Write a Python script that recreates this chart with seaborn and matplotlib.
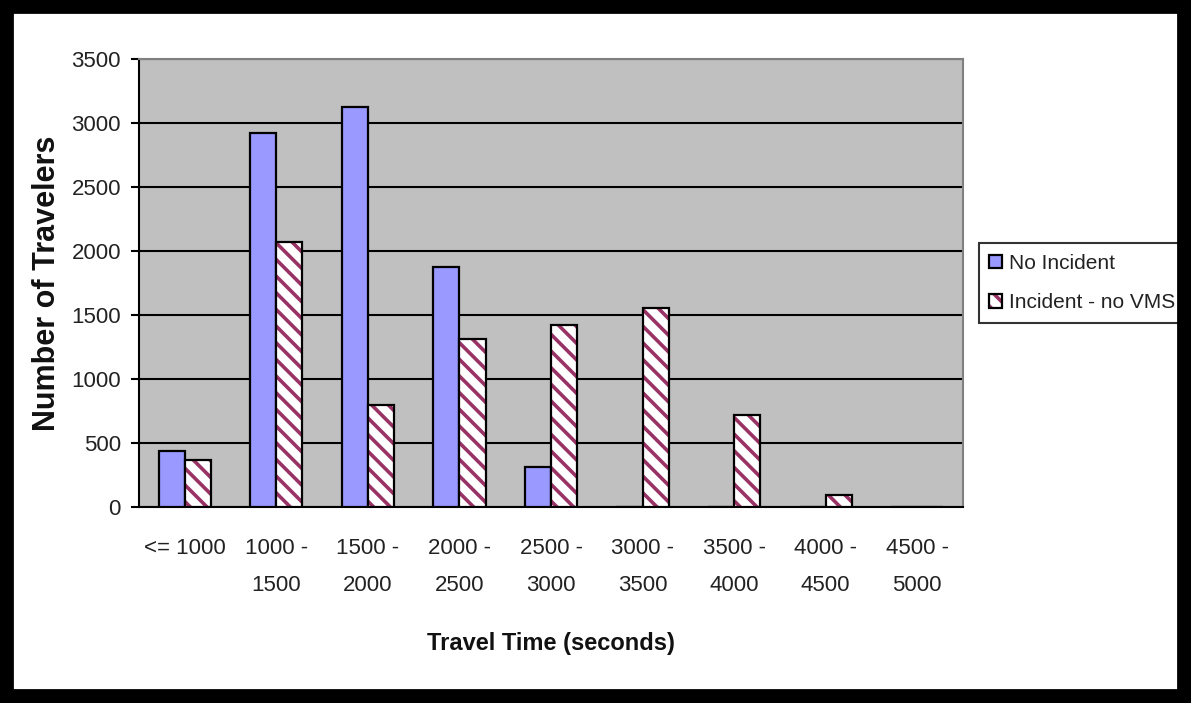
import matplotlib
matplotlib.use("Agg")
import matplotlib.pyplot as plt
import matplotlib.colors as mcolors
from matplotlib.patches import Rectangle
import numpy as np
import pandas as pd
import seaborn as sns

categories = ["<= 1000", "1000 -\n1500", "1500 -\n2000", "2000 -\n2500", "2500 -\n3000",
              "3000 -\n3500", "3500 -\n4000", "4000 -\n4500", "4500 -\n5000"]
no_incident = [440, 2925, 3125, 1875, 310, 0, 0, 0, 0]
incident_no_vms = [370, 2070, 795, 1310, 1425, 1555, 715, 95, 0]
series_names = ["No Incident", "Incident - no VMS"]
y_ticks = [0, 500, 1000, 1500, 2000, 2500, 3000, 3500]

df = pd.DataFrame({
    "cat": categories * 2,
    "series": [series_names[0]] * len(categories) + [series_names[1]] * len(categories),
    "value": no_incident + incident_no_vms,
})

sns.set_theme(style="white")
plt.rcParams["font.family"] = ["Liberation Sans", "DejaVu Sans"]
plt.rcParams["hatch.linewidth"] = 2.6

fig = plt.figure(figsize=(11.91, 7.03), dpi=100)
fig.patch.set_facecolor("white")

ax = fig.add_axes([139 / 1191, 1 - 507 / 703, 824 / 1191, 448 / 703])
ax.set_facecolor("#c0c0c0")

sns.barplot(data=df, x="cat", y="value", hue="series",
            palette=["#9999ff", "#ffffff"], width=0.57, saturation=1,
            edgecolor="black", linewidth=1.6, legend=False, ax=ax, zorder=3)

hatch_col = mcolors.to_rgba("#993366")
for p in ax.containers[1]:
    p.set_hatch("\\\\")
    p.set_facecolor("white")
    p._hatch_color = hatch_col

ax.set_ylim(0, 3500)
ax.set_xlim(-0.5, len(categories) - 0.5)
ax.set_yticks(y_ticks)
ax.set_yticklabels([str(v) for v in y_ticks], fontsize=16, color="#222222")
ax.yaxis.grid(True, color="black", linewidth=1.5, zorder=1)
ax.set_axisbelow(True)

ax.set_xticks(range(len(categories)))
ax.set_xticklabels(categories, fontsize=16, color="#222222", linespacing=2.05, va="top")
ax.tick_params(axis="x", which="major", length=0, pad=22)
ax.set_xticks(np.arange(-0.5, len(categories), 1.0), minor=True)
ax.tick_params(axis="x", which="minor", length=8, width=1.5, color="black", direction="out")
ax.tick_params(axis="y", which="major", length=6, width=1.5, color="black", direction="out", pad=7, left=True)

for side in ["left", "bottom"]:
    ax.spines[side].set_color("black")
    ax.spines[side].set_linewidth(1.5)
for side in ["top", "right"]:
    ax.spines[side].set_color("#808080")
    ax.spines[side].set_linewidth(1.5)

ax.set_xlabel("Travel Time (seconds)", fontsize=17, fontweight="bold", color="#111111", va="top")
ax.set_ylabel("Number of Travelers", fontsize=22, fontweight="bold", color="#111111")
ax.xaxis.set_label_coords(0.5, -0.28)
ax.yaxis.set_label_coords(-0.093, 0.5)

leg = ax.legend(ax.containers, series_names, loc="center left",
                bbox_to_anchor=(979 / 1191, 1 - 283 / 703), bbox_transform=fig.transFigure,
                fontsize=15, frameon=True, fancybox=False, edgecolor="black",
                handlelength=0.6, handleheight=0.6, handletextpad=0.35,
                labelspacing=1.0, borderpad=0.5, borderaxespad=0)
leg.get_frame().set_linewidth(1.5)
for t in leg.get_texts():
    t.set_color("#222222")

# black picture frame drawn on top of everything
fig.add_artist(Rectangle((0, 0), 1, 1, transform=fig.transFigure, fill=False,
                         edgecolor="black", linewidth=20, zorder=100))

fig.savefig("out.png", dpi=100, facecolor="white")
